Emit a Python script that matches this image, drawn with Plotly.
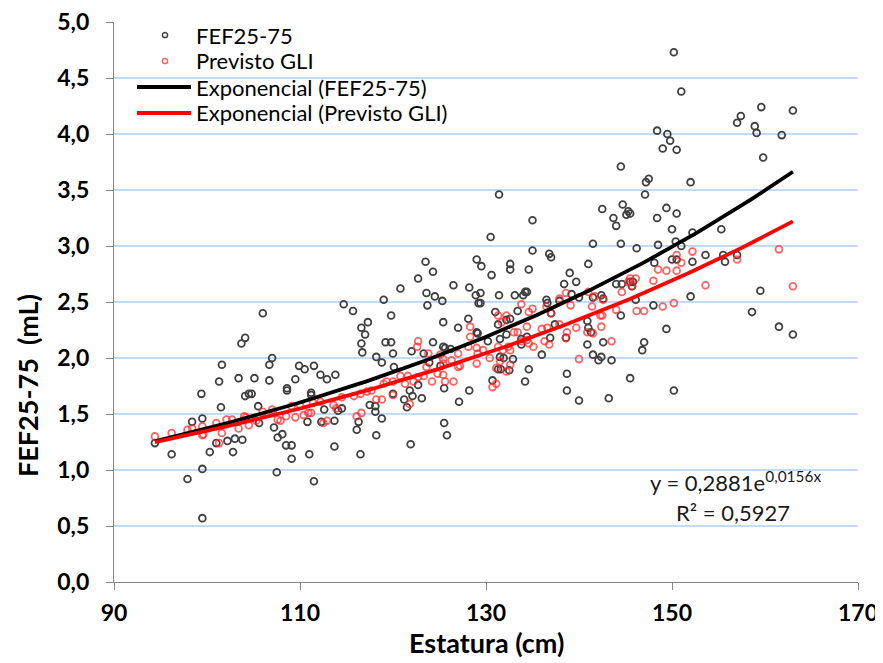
import numpy as np
import plotly.graph_objects as go

# ---------------- data ----------------
fef_x = [94.4, 96.2, 97.9, 98.4, 99.5, 99.5, 99.5, 99.4, 100.3, 101.0, 101.3, 101.5, 101.6, 102.2, 102.8,
         103.0, 103.4, 103.8, 103.7, 104.1, 104.1, 104.5, 104.8, 105.1, 105.5, 105.6, 106.0, 106.7, 107.0,
         106.7, 107.2, 107.6, 108.1, 107.5, 108.6, 108.6, 108.5, 109.1, 109.1, 109.5, 109.9, 110.5, 111.5,
         112.2, 111.2, 111.2, 112.9, 113.8, 112.6, 110.8, 112.3, 113.7, 114.1, 114.5, 111.0, 113.7, 111.5,
         114.7, 115.7, 116.6, 117.0, 117.3, 116.6, 116.7, 118.2, 118.8, 120.1, 119.0, 119.8, 119.2, 119.8,
         120.0, 117.5, 118.1, 118.1, 116.3, 116.1, 118.8, 118.2, 116.5, 120.0, 121.2, 121.5, 121.8, 122.1,
         121.9, 120.8, 122.0, 122.7, 123.5, 124.3, 123.6, 124.5, 123.7, 125.3, 126.5, 125.4, 124.3, 123.3,
         123.9, 122.7, 123.1, 125.4, 125.6, 126.2, 125.1, 125.5, 125.5, 125.8, 127.0, 127.1, 128.2, 129.0,
         128.9, 129.2, 128.1, 129.0, 128.2, 129.5, 129.4, 129.4, 129.1, 130.5, 130.6, 131.4, 131.4, 131.0,
         131.3, 130.2, 131.5, 132.2, 132.6, 132.2, 131.5, 131.9, 132.9, 131.3, 131.6, 132.5, 130.7, 132.6,
         132.6, 133.1, 133.4, 134.0, 134.2, 134.4, 134.6, 135.0, 135.0, 133.8, 134.4, 133.8, 134.6, 134.2,
         136.0, 136.5, 136.6, 136.8, 137.0, 137.0, 137.4, 136.9, 137.9, 138.4, 139.0, 139.7, 139.2, 140.0,
         138.6, 138.7, 138.7, 140.0, 140.9, 141.0, 141.5, 141.5, 141.0, 141.3, 140.9, 141.5, 142.1, 142.4,
         142.6, 142.4, 142.6, 142.5, 143.5, 143.2, 143.7, 144.0, 144.0, 144.6, 144.5, 144.5, 144.7, 144.5,
         145.1, 145.3, 145.5, 145.5, 145.5, 145.8, 145.7, 146.2, 146.1, 146.8, 147.0, 147.1, 147.2, 147.5,
         148.0, 148.1, 148.4, 150.2, 151.0, 148.4, 149.5, 149.8, 149.0, 150.5, 152.0, 149.4, 150.5, 150.0,
         152.2, 148.5, 150.4, 151.0, 150.0, 150.5, 152.2, 153.6, 155.3, 155.5, 155.7, 157.0, 157.0, 157.4,
         158.9, 159.1, 159.6, 159.8, 161.8, 163.0, 152.0, 149.4, 159.5, 158.6, 161.5, 163.0, 150.2]
fef_y = [1.24, 1.14, 0.92, 1.43, 1.46, 1.01, 0.57, 1.68, 1.16, 1.24, 1.79, 1.56, 1.94, 1.26, 1.16,
         1.28, 1.82, 1.27, 2.13, 2.18, 1.66, 1.68, 1.68, 1.82, 1.57, 1.42, 2.40, 1.94, 2.00,
         1.80, 1.38, 1.29, 1.32, 0.98, 1.73, 1.71, 1.22, 1.22, 1.10, 1.81, 1.93, 1.90, 1.93,
         1.85, 1.69, 1.67, 1.81, 1.85, 1.54, 1.43, 1.43, 1.44, 1.53, 1.55, 1.14, 1.21, 0.90,
         2.48, 2.42, 2.27, 2.21, 2.32, 2.13, 2.05, 2.01, 1.96, 1.92, 2.52, 2.38, 2.14, 2.14,
         2.04, 1.58, 1.57, 1.52, 1.43, 1.36, 1.46, 1.31, 1.14, 1.68, 1.63, 1.56, 1.71, 1.66,
         1.23, 2.62, 2.06, 2.71, 2.86, 2.77, 2.58, 2.55, 2.47, 2.51, 2.65, 2.32, 2.14, 2.04,
         1.96, 1.76, 1.64, 2.10, 2.09, 2.08, 1.93, 1.73, 1.42, 1.31, 2.27, 1.61, 2.63, 2.88,
         2.56, 2.49, 2.35, 2.23, 1.71, 2.82, 2.58, 2.49, 2.22, 3.08, 2.74, 3.46, 2.56, 2.41,
         2.30, 2.15, 2.17, 2.34, 2.35, 2.21, 2.01, 2.00, 1.99, 1.90, 1.90, 1.89, 1.80, 2.84,
         2.79, 2.56, 2.42, 2.56, 2.59, 2.59, 2.79, 2.96, 3.23, 2.17, 2.19, 2.12, 1.90, 1.79,
         2.03, 2.52, 2.49, 2.93, 2.90, 2.40, 2.30, 2.18, 2.51, 2.66, 2.76, 2.68, 2.57, 2.54,
         2.18, 1.86, 1.71, 1.62, 2.33, 2.84, 3.02, 2.54, 2.27, 2.23, 2.12, 2.03, 1.98, 2.01,
         2.14, 2.56, 2.53, 3.33, 1.98, 1.64, 3.25, 3.18, 2.66, 2.66, 2.38, 3.71, 3.37, 3.02,
         3.28, 3.31, 3.29, 1.82, 2.68, 2.68, 2.64, 2.98, 2.52, 2.07, 2.14, 3.46, 3.57, 3.60,
         2.47, 2.85, 3.25, 4.73, 4.38, 4.03, 4.00, 3.94, 3.87, 3.86, 3.57, 3.34, 3.29, 3.15,
         3.12, 3.01, 3.04, 3.00, 2.88, 2.88, 2.86, 2.92, 3.15, 2.92, 2.86, 2.92, 4.10, 4.16,
         4.07, 4.01, 4.24, 3.79, 3.99, 4.21, 2.55, 2.26, 2.60, 2.41, 2.28, 2.21, 1.71]

gli_x = [94.4, 96.2, 97.9, 98.4, 99.5, 99.5, 99.6, 101.0, 101.3, 101.6, 102.1, 102.7, 103.4, 104.0, 104.2,
         104.5, 105.3, 106.0, 107.0, 107.1, 107.6, 108.5, 109.1, 109.5, 107.9, 110.4, 110.9, 111.2, 110.0,
         111.4, 112.2, 112.5, 112.9, 113.6, 113.9, 114.5, 115.8, 116.1, 116.6, 116.5, 117.2, 117.7, 118.2,
         118.8, 119.0, 119.3, 120.0, 120.0, 120.8, 121.3, 121.6, 121.8, 122.2, 122.7, 122.6, 122.7, 123.3,
         123.6, 123.8, 124.2, 124.8, 125.1, 125.4, 125.4, 125.4, 125.6, 126.5, 126.3, 127.0, 127.0, 128.3,
         128.3, 128.1, 129.0, 129.0, 127.2, 129.1, 129.7, 130.4, 130.7, 131.1, 131.1, 131.5, 131.3, 132.2,
         131.7, 131.3, 131.8, 132.4, 132.2, 132.6, 132.6, 133.0, 133.4, 133.8, 134.4, 134.6, 133.8, 134.4,
         134.6, 135.1, 135.0, 136.0, 136.6, 136.3, 136.8, 136.5, 137.0, 137.9, 137.9, 138.6, 139.1, 138.7,
         138.6, 139.7, 140.0, 141.0, 141.4, 140.9, 141.5, 141.7, 142.6, 142.3, 142.5, 142.4, 143.5, 144.0,
         144.6, 145.3, 145.5, 145.7, 146.1, 146.2, 147.0, 148.0, 148.5, 149.4, 150.5, 149.0, 150.2, 150.5,
         151.0, 152.2, 153.6, 157.0, 161.5, 163.0]
gli_y = [1.30, 1.33, 1.36, 1.37, 1.39, 1.31, 1.32, 1.42, 1.24, 1.33, 1.45, 1.45, 1.37, 1.48, 1.47,
         1.40, 1.44, 1.52, 1.54, 1.51, 1.45, 1.48, 1.57, 1.47, 1.44, 1.49, 1.51, 1.51, 1.58,
         1.60, 1.61, 1.42, 1.44, 1.58, 1.55, 1.65, 1.66, 1.48, 1.51, 1.68, 1.70, 1.71, 1.63,
         1.63, 1.77, 1.79, 1.79, 1.67, 1.84, 1.77, 1.84, 1.59, 1.79, 1.83, 2.10, 2.15, 1.84,
         1.92, 2.04, 1.79, 1.86, 2.03, 1.99, 1.95, 1.85, 1.79, 1.79, 1.98, 2.04, 1.92, 2.28,
         2.19, 2.10, 2.09, 1.95, 1.93, 2.04, 2.07, 2.00, 1.74, 1.77, 1.91, 1.97, 2.38, 2.38,
         2.32, 2.10, 2.07, 2.10, 1.88, 1.94, 2.07, 2.23, 2.23, 2.48, 2.28, 2.41, 2.15, 2.16,
         2.13, 2.10, 2.44, 2.26, 2.27, 2.15, 2.12, 2.46, 2.40, 2.30, 2.53, 2.58, 2.47, 2.23,
         2.18, 2.27, 1.99, 2.59, 2.46, 2.23, 2.22, 2.55, 2.52, 2.38, 2.38, 2.28, 2.15, 2.43,
         2.59, 2.68, 2.71, 2.64, 2.71, 2.42, 2.42, 2.69, 2.79, 2.78, 2.78, 2.46, 2.49, 2.92,
         2.85, 2.95, 2.65, 2.88, 2.97, 2.64]

# exponential trendline coefficients (y = a * e^(b x))
fef_trend = [0.2881, 0.0156]
gli_trend = [0.339, 0.01381]

series_names = ["FEF25-75", "Previsto GLI", "Exponencial (FEF25-75)", "Exponencial (Previsto GLI)"]
x_ticks = [90, 110, 130, 150, 170]

# ---------------- figure ----------------
BLACK_MK = "#404040"
RED_MK = "rgba(255,40,40,0.72)"
FONT = "Lato"

fig = go.Figure()
fig.add_trace(go.Scatter(x=fef_x, y=fef_y, mode="markers", name=series_names[0],
                         marker=dict(symbol="circle-open", size=6.8, color=BLACK_MK,
                                     line=dict(width=1.8, color=BLACK_MK))))
fig.add_trace(go.Scatter(x=gli_x, y=gli_y, mode="markers", name=series_names[1],
                         marker=dict(symbol="circle-open", size=6.8, color=RED_MK,
                                     line=dict(width=1.8, color=RED_MK))))

tx = np.linspace(min(fef_x), max(fef_x), 200)
fig.add_trace(go.Scatter(x=tx, y=fef_trend[0] * np.exp(fef_trend[1] * tx), mode="lines",
                         name=series_names[2], line=dict(color="#000000", width=3.8)))
tx2 = np.linspace(min(gli_x), max(gli_x), 200)
fig.add_trace(go.Scatter(x=tx2, y=gli_trend[0] * np.exp(gli_trend[1] * tx2), mode="lines",
                         name=series_names[3], line=dict(color="#ff0000", width=3.8)))

# page body has an 8px margin: the figure is shifted by (8, 8) in the screenshot
OFF = 8
PL, PR, PT, PB = 114, 858, 22, 582          # plot area in screen pixels
W, H = 883 - OFF, 663 - OFF
L, T = PL - OFF, PT - OFF
R, B = W - (PR - OFF), H - (PB - OFF)
PW, PH = PR - PL, PB - PT


def px(xs):
    return (xs - PL) / PW


def py(ys):
    return (PB - ys) / PH


shapes = []
annotations = []
# legend box
shapes.append(dict(type="rect", xref="paper", yref="paper", x0=px(127), x1=px(457), y0=py(127), y1=py(25),
                   fillcolor="white", line=dict(width=0), layer="between"))
# legend markers
for yy, col in [(35, BLACK_MK), (61, RED_MK)]:
    shapes.append(dict(type="circle", xref="paper", yref="paper", xsizemode="pixel", ysizemode="pixel",
                       xanchor=px(165), yanchor=py(yy), x0=-2.6, x1=2.6, y0=-2.6, y1=2.6,
                       line=dict(color=col, width=1.5), fillcolor="rgba(0,0,0,0)", layer="above"))
# legend lines
for yy, col in [(87, "#000000"), (113, "#ff0000")]:
    shapes.append(dict(type="line", xref="paper", yref="paper", x0=px(137), x1=px(191), y0=py(yy), y1=py(yy),
                       line=dict(color=col, width=3.8), layer="above"))
for yy, name in zip([35, 61, 87, 113], series_names):
    annotations.append(dict(text=name, xref="paper", yref="paper", x=px(194), y=py(yy), xanchor="left",
                            yanchor="middle", showarrow=False, font=dict(family=FONT, size=22, color="#000000")))

# equation text
annotations.append(dict(text="y = 0,2881e<sup>0,0156x</sup>", xref="paper", yref="paper", x=px(735), y=py(481),
                        xanchor="center", yanchor="middle", showarrow=False,
                        font=dict(family=FONT, size=22, color="#1a1a1a")))
annotations.append(dict(text="R² = 0,5927", xref="paper", yref="paper", x=px(733), y=py(512),
                        xanchor="center", yanchor="middle", showarrow=False,
                        font=dict(family=FONT, size=22, color="#1a1a1a")))
# axis titles
annotations.append(dict(text="FEF25-75  (mL)", xref="paper", yref="paper", x=px(27), y=py(386),
                        textangle=-90, xanchor="center", yanchor="middle", showarrow=False,
                        font=dict(family=FONT, size=27, color="#000000", weight="bold")))
annotations.append(dict(text="Estatura (cm)", xref="paper", yref="paper", x=px(486), y=py(642),
                        xanchor="center", yanchor="middle", showarrow=False,
                        font=dict(family=FONT, size=27, color="#000000", weight="bold")))

fig.update_layout(
    width=W, height=H,
    margin=dict(l=L, r=R, t=T, b=B, autoexpand=False),
    paper_bgcolor="white", plot_bgcolor="white",
    separators=",.",
    showlegend=False,
    shapes=shapes, annotations=annotations,
)
fig.update_xaxes(range=[90, 170], tickvals=x_ticks, showgrid=False, zeroline=False,
                 showline=True, linecolor="#868686", linewidth=1.3, automargin=False,
                 ticks="outside", ticklen=7, tickcolor="#868686", tickwidth=1.3,
                 ticklabelstandoff=3, ticklabeloverflow="allow",
                 tickfont=dict(family=FONT, size=23, color="#000000", weight="bold"))
fig.update_yaxes(range=[0, 5], dtick=0.5, tick0=0, tickformat=".1f", showgrid=True,
                 gridcolor="#c6d9f0", gridwidth=1.5, zeroline=False, automargin=False,
                 showline=True, linecolor="#868686", linewidth=1.3,
                 ticks="outside", ticklen=7, tickcolor="#868686", tickwidth=1.3,
                 ticklabelstandoff=12, ticklabeloverflow="allow",
                 tickfont=dict(family=FONT, size=23, color="#000000", weight="bold"))

fig.write_html("out.html")
